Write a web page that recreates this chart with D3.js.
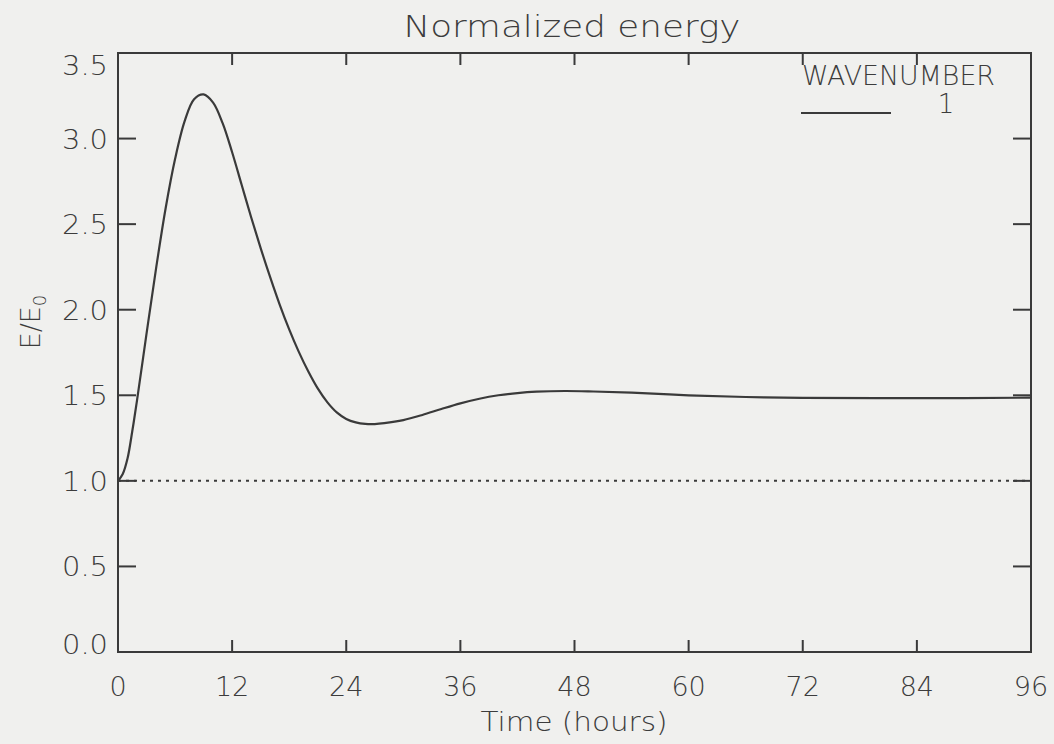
<!DOCTYPE html>
<html>
<head>
<meta charset="utf-8">
<script src="https://cdn.jsdelivr.net/npm/d3@7"></script>
<style>
  html, body { margin: 0; padding: 0; background: #f0f0ee; }
  svg { display: block; }
  text { font-family: "DejaVu Sans", "Liberation Sans", sans-serif; font-weight: 200; fill: #3c3c3c; }
</style>
</head>
<body>
<svg id="chart" width="1054" height="744"></svg>
<script>
// Normalized energy of wavenumber 1 over time
const hours = [0, 0.5, 1, 1.5, 2, 3, 4, 5, 6, 7, 8, 9, 10, 11, 12, 13, 14, 15, 16, 17, 18, 19, 20, 21, 22, 23, 24, 25, 26, 27, 28, 30, 32, 34, 36, 38, 40, 42, 44, 47, 50, 54, 60, 66, 72, 84, 96];
const energy = [1.00, 1.04, 1.13, 1.29, 1.47, 1.86, 2.24, 2.59, 2.88, 3.10, 3.23, 3.258, 3.21, 3.09, 2.92, 2.73, 2.54, 2.36, 2.19, 2.03, 1.885, 1.755, 1.64, 1.54, 1.46, 1.40, 1.362, 1.342, 1.333, 1.332, 1.337, 1.355, 1.385, 1.42, 1.453, 1.48, 1.50, 1.513, 1.521, 1.525, 1.522, 1.515, 1.500, 1.490, 1.485, 1.483, 1.486];
const xTicks = [0, 12, 24, 36, 48, 60, 72, 84, 96];
const yTicks = [0.0, 0.5, 1.0, 1.5, 2.0, 2.5, 3.0, 3.5];
const referenceLevel = 1.0;
const legendTitle = "WAVENUMBER";
const legendLabel = "1";

(function () {
  const svg = d3.select("#chart");
  const plotLeft = 118, plotRight = 1031, plotTop = 53, plotBottom = 652;
  const ink = "#3a3a3a";

  const x = d3.scaleLinear().domain([0, 96]).range([plotLeft, plotRight]);
  const y = d3.scaleLinear().domain([0, 3.5]).range([plotBottom, plotTop]);

  // Frame
  svg.append("rect")
    .attr("x", plotLeft).attr("y", plotTop)
    .attr("width", plotRight - plotLeft).attr("height", plotBottom - plotTop)
    .attr("fill", "none").attr("stroke", ink).attr("stroke-width", 2);

  // Bottom and top ticks (inward)
  const xt = svg.append("g");
  xTicks.forEach(t => {
    xt.append("line").attr("x1", x(t)).attr("x2", x(t)).attr("y1", plotBottom).attr("y2", plotBottom - 12)
      .attr("stroke", ink).attr("stroke-width", 2);
    xt.append("line").attr("x1", x(t)).attr("x2", x(t)).attr("y1", plotTop).attr("y2", plotTop + 12)
      .attr("stroke", ink).attr("stroke-width", 2);
    xt.append("text").attr("x", x(t)).attr("y", 696)
      .attr("text-anchor", "middle").attr("font-size", 27)
      .text(String(t));
  });

  // Left and right ticks (inward)
  const yt = svg.append("g");
  yTicks.forEach((v, i) => {
    yt.append("line").attr("x1", plotLeft).attr("x2", plotLeft + 18).attr("y1", y(v)).attr("y2", y(v))
      .attr("stroke", ink).attr("stroke-width", 2);
    yt.append("line").attr("x1", plotRight).attr("x2", plotRight - 18).attr("y1", y(v)).attr("y2", y(v))
      .attr("stroke", ink).attr("stroke-width", 2);
    // end labels are nudged inside the frame
    let shift = 0;
    if (i === 0) shift = -8;
    if (i === yTicks.length - 1) shift = 12;
    yt.append("text").attr("x", 108).attr("y", y(v) + shift + 10)
      .attr("text-anchor", "end").attr("font-size", 27)
      .attr("textLength", 46).attr("lengthAdjust", "spacingAndGlyphs")
      .text(v.toFixed(1));
  });

  // Reference level (dotted)
  svg.append("line")
    .attr("x1", x(0)).attr("x2", x(96))
    .attr("y1", y(referenceLevel)).attr("y2", y(referenceLevel))
    .attr("stroke", ink).attr("stroke-width", 2)
    .attr("stroke-dasharray", "3,5");

  // Energy curve
  const line = d3.line()
    .x((d, i) => x(hours[i]))
    .y(d => y(d))
    .curve(d3.curveCatmullRom.alpha(0.5));
  svg.append("path")
    .datum(energy)
    .attr("d", line)
    .attr("fill", "none").attr("stroke", ink).attr("stroke-width", 2.2);

  // Title
  svg.append("text").attr("x", 572).attr("y", 37)
    .attr("text-anchor", "middle").attr("font-size", 30)
    .attr("textLength", 337).attr("lengthAdjust", "spacingAndGlyphs")
    .text("Normalized energy");

  // Axis titles
  svg.append("text").attr("x", 574).attr("y", 731)
    .attr("text-anchor", "middle").attr("font-size", 27)
    .attr("textLength", 187).attr("lengthAdjust", "spacingAndGlyphs")
    .text("Time (hours)");

  const yl = svg.append("text")
    .attr("transform", "translate(40,322) rotate(-90)")
    .attr("text-anchor", "middle").attr("font-size", 27);
  yl.append("tspan").text("E/E");
  yl.append("tspan").attr("font-size", 18).attr("dy", 6).text("0");

  // Legend
  svg.append("text").attr("x", 802).attr("y", 85)
    .attr("font-size", 26).attr("textLength", 193).attr("lengthAdjust", "spacingAndGlyphs")
    .text(legendTitle);
  svg.append("line").attr("x1", 801).attr("x2", 891).attr("y1", 113).attr("y2", 113)
    .attr("stroke", ink).attr("stroke-width", 2.2);
  svg.append("text").attr("x", 946).attr("y", 113)
    .attr("text-anchor", "middle").attr("font-size", 26)
    .text(legendLabel);
})();
</script>
</body>
</html>
